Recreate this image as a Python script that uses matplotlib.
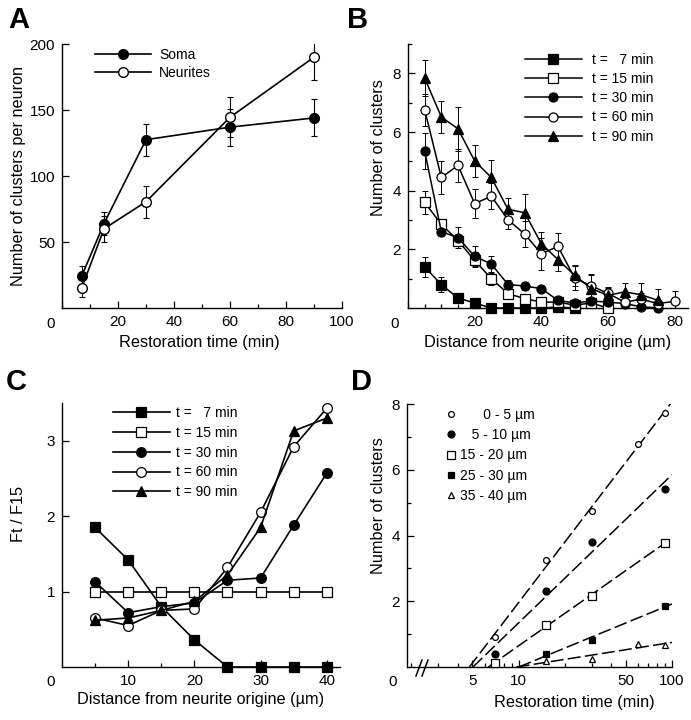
import numpy as np
import matplotlib
matplotlib.use("Agg")
import matplotlib.pyplot as plt
from matplotlib.lines import Line2D
from matplotlib.ticker import MultipleLocator, FixedLocator, NullFormatter

plt.rcParams["font.family"] = ["Liberation Sans", "DejaVu Sans"]
plt.rcParams["font.size"] = 11
plt.rcParams["axes.linewidth"] = 1.0

W, H = 691, 720
LABEL_SIZE = 11.7
nan = np.nan

# --- panel A: clusters per neuron vs restoration time
a_time = [7, 15, 30, 60, 90]
a_soma = [24, 64, 127.5, 137, 144]
a_soma_err = [8, 9, 12, 14, 14]
a_neurites = [15, 60, 80.5, 144.5, 190]
a_neurites_err = [7, 10, 12, 15, 17]

# --- panel B: clusters vs distance from neurite origin
b_dist = [5, 10, 15, 20, 25, 30, 35, 40, 45, 50, 55, 60, 65, 70, 75, 80]
b_t7 = [1.4, 0.8, 0.34, 0.17, 0.0, 0.0, 0.0, 0.0, 0.03, 0.0, nan, nan, nan, nan, nan, nan]
b_t7_err = [0.35, 0.27, 0.1, 0.05, 0, 0, 0, 0, 0.25, 0, nan, nan, nan, nan, nan, nan]
b_t15 = [3.6, 2.85, 2.3, 1.62, 1.0, 0.49, 0.32, 0.2, 0.2, 0.1, 0.17, 0.0, nan, nan, nan, nan]
b_t15_err = [0.4, 0.1, 0.2, 0.2, 0.2, 0.15, 0.1, 0.08, 0.1, 0.05, 0.1, 0.05, nan, nan, nan, nan]
b_t30 = [5.35, 2.6, 2.4, 1.76, 1.5, 0.8, 0.75, 0.66, 0.26, 0.17, 0.24, 0.2, 0.15, 0.04, 0.0, nan]
b_t30_err = [0.6, 0.15, 0.35, 0.35, 0.28, 0.15, 0.12, 0.1, 0.1, 0.08, 0.1, 0.1, 0.1, 0.05, 0.05, nan]
b_t60 = [6.76, 4.45, 4.86, 3.56, 3.81, 3.01, 2.52, 1.85, 2.1, 1.02, 0.75, 0.5, 0.2, 0.3, 0.15, 0.23]
b_t60_err = [0.55, 0.55, 0.55, 0.5, 0.45, 0.3, 0.45, 0.55, 0.45, 0.4, 0.4, 0.2, 0.15, 0.2, 0.1, 0.35]
b_t90 = [7.84, 6.51, 6.11, 5.01, 4.45, 3.36, 3.25, 2.19, 1.65, 1.11, 0.66, 0.43, 0.55, 0.45, 0.26, nan]
b_t90_err = [0.62, 0.55, 0.75, 0.55, 0.6, 0.4, 0.65, 0.4, 0.4, 0.35, 0.45, 0.25, 0.3, 0.4, 0.4, nan]
t_labels = ["t =   7 min", "t = 15 min", "t = 30 min", "t = 60 min", "t = 90 min"]

# --- panel C: Ft / F15 ratio vs distance
c_dist = [5, 10, 15, 20, 25, 30, 35, 40]
c_t7 = [1.85, 1.42, 0.8, 0.36, 0.0, 0.0, 0.0, 0.0]
c_t15 = [1.0, 1.0, 1.0, 1.0, 1.0, 1.0, 1.0, 1.0]
c_t30 = [1.13, 0.72, 0.8, 0.85, 1.15, 1.18, 1.88, 2.57]
c_t60 = [0.65, 0.55, 0.75, 0.77, 1.32, 2.05, 2.92, 3.43]
c_t90 = [0.62, 0.65, 0.75, 0.87, 1.22, 1.85, 3.13, 3.3]

# --- panel D: clusters vs log restoration time, per distance bin
d_time = [7, 15, 30, 60, 90]
d_0_5 = [0.91, 3.25, 4.75, 6.78, 7.74]
d_5_10 = [0.4, 2.3, 3.8, nan, 5.42]
d_15_20 = [0.12, 1.28, 2.16, nan, 3.78]
d_25_30 = [nan, 0.4, 0.81, nan, 1.87]
d_35_40 = [nan, 0.18, 0.25, 0.71, 0.66]
d_labels = ["      0 - 5 µm", "   5 - 10 µm", "15 - 20 µm", "25 - 30 µm", "35 - 40 µm"]

# marker styles shared by the five time series (filled / open)
t_styles = [("s", "k"), ("s", "white"), ("o", "k"), ("o", "white"), ("^", "k")]


def rect(left, top, right, bottom):
    """Axes rectangle from pixel edges."""
    return [left / W, 1 - bottom / H, (right - left) / W, (bottom - top) / H]


def style_axes(ax):
    for side in ["top", "right"]:
        ax.spines[side].set_visible(False)
    ax.tick_params(which="both", direction="in", labelsize=11, width=0.9)
    ax.tick_params(which="major", length=5, pad=5)
    ax.tick_params(which="minor", length=3)


def fig_text(x, y, s, **kw):
    fig.text(x / W, 1 - y / H, s, **kw)


def legend(ax, x, y, **kw):
    opts = dict(loc="upper left", bbox_to_anchor=(x / W, 1 - y / H),
                bbox_transform=fig.transFigure, frameon=False, fontsize=10,
                borderpad=0, borderaxespad=0)
    opts.update(kw)
    ax.legend(**opts)


fig = plt.figure(figsize=(W / 100, H / 100), dpi=100)

# ---------------- A
ax = fig.add_axes(rect(62, 44, 342, 308))
style_axes(ax)
for y, err, fc, lab in [(a_soma, a_soma_err, "k", "Soma"),
                        (a_neurites, a_neurites_err, "white", "Neurites")]:
    ax.errorbar(a_time, y, yerr=err, fmt="none", ecolor="k", elinewidth=0.8,
                capsize=2.5, capthick=0.8, zorder=2)
    ax.plot(a_time, y, "-o", color="k", mfc=fc, mec="k", ms=7, mew=1.0,
            lw=1.2, label=lab, clip_on=False, zorder=3)
ax.set_xlim(0, 100)
ax.set_ylim(0, 200)
ax.set_xticks([0, 20, 40, 60, 80, 100], ["", "20", "40", "60", "80", "100"])
ax.xaxis.set_minor_locator(MultipleLocator(10))
ax.set_yticks([50, 100, 150, 200])
ax.set_xlabel("Restoration time (min)", fontsize=LABEL_SIZE)
ax.xaxis.set_label_coords(0.49, -0.102)
ax.set_ylabel("Number of clusters per neuron", fontsize=LABEL_SIZE)
ax.yaxis.set_label_coords(-0.128, 0.5)
legend(ax, 95, 48, handlelength=4, handletextpad=0.6, labelspacing=0.3)
fig_text(51, 328, "0", ha="center", va="baseline", fontsize=11)
fig_text(19, 28, "A", ha="center", va="baseline", fontsize=21, fontweight="bold")

# ---------------- B
ax = fig.add_axes(rect(408, 44, 688, 308))
style_axes(ax)
b_series = [(b_t7, b_t7_err), (b_t15, b_t15_err), (b_t30, b_t30_err),
            (b_t60, b_t60_err), (b_t90, b_t90_err)]
for (y, err), (m, fc), lab in zip(b_series, t_styles, t_labels):
    ax.errorbar(b_dist, y, yerr=err, fmt="none", ecolor="k", elinewidth=0.7,
                capsize=2.5, capthick=0.7, zorder=2)
    ax.plot(b_dist, y, "-", marker=m, color="k", mfc=fc, mec="k",
            ms=6.5 if m != "^" else 7, mew=0.9, lw=1.1, label=lab,
            clip_on=False, zorder=3)
ax.set_xlim(0, 84)
ax.set_ylim(0, 9)
ax.set_xticks([0, 20, 40, 60, 80], ["", "20", "40", "60", "80"])
ax.xaxis.set_minor_locator(MultipleLocator(5))
ax.set_yticks([2, 4, 6, 8])
ax.yaxis.set_minor_locator(FixedLocator([1, 3, 5, 7, 9]))
ax.set_xlabel("Distance from neurite origine (µm)", fontsize=LABEL_SIZE)
ax.xaxis.set_label_coords(0.5, -0.102)
ax.set_ylabel("Number of clusters", fontsize=LABEL_SIZE)
ax.yaxis.set_label_coords(-0.080, 0.606)
legend(ax, 525, 53, handlelength=4.1, handletextpad=0.7, labelspacing=0.37)
fig_text(395, 328, "0", ha="center", va="baseline", fontsize=11)
fig_text(358, 28, "B", ha="center", va="baseline", fontsize=21, fontweight="bold")

# ---------------- C
ax = fig.add_axes(rect(62, 403, 340, 667))
style_axes(ax)
for y, (m, fc), lab in zip([c_t7, c_t15, c_t30, c_t60, c_t90], t_styles, t_labels):
    ax.plot(c_dist, y, "-", marker=m, color="k", mfc=fc, mec="k",
            ms=7 if m != "^" else 7.5, mew=0.9, lw=1.2, label=lab,
            clip_on=False, zorder=3)
ax.set_xlim(0, 42)
ax.set_ylim(0, 3.5)
ax.set_xticks([10, 20, 30, 40])
ax.xaxis.set_minor_locator(FixedLocator([5, 15, 25, 35]))
ax.set_yticks([1, 2, 3])
ax.set_xlabel("Distance from neurite origine (µm)", fontsize=LABEL_SIZE)
ax.xaxis.set_label_coords(0.5, -0.095)
ax.set_ylabel("Ft / F15", fontsize=LABEL_SIZE)
ax.yaxis.set_label_coords(-0.128, 0.58)
legend(ax, 113, 406, handlelength=4.1, handletextpad=0.4, labelspacing=0.42)
fig_text(51, 686, "0", ha="center", va="baseline", fontsize=11)
fig_text(16, 390, "C", ha="center", va="baseline", fontsize=21, fontweight="bold")

# ---------------- D
ax = fig.add_axes(rect(407, 404, 672, 667))
style_axes(ax)
ax.set_xscale("log")
d_series = [d_0_5, d_5_10, d_15_20, d_25_30, d_35_40]
d_styles = [("o", "white", 4.2), ("o", "k", 5), ("s", "white", 5.5),
            ("s", "k", 5), ("^", "white", 4.5)]
for y, (m, fc, ms), lab in zip(d_series, d_styles, d_labels):
    t = np.array(d_time, dtype=float)
    y = np.array(y, dtype=float)
    ok = ~np.isnan(y)
    # least-squares line of clusters against log10(time), drawn from y = 0
    slope, icpt = np.polyfit(np.log10(t[ok]), y[ok], 1)
    xs = np.array([10 ** (-icpt / slope), 100])
    ax.plot(xs, slope * np.log10(xs) + icpt, color="k", lw=1.1,
            dashes=(8.5, 2.8), zorder=2)
    ax.plot(t, y, linestyle="none", marker=m, mfc=fc, mec="k", ms=ms,
            mew=0.9, label=lab, clip_on=False, zorder=3)
ax.set_xlim(1.87, 100)
ax.set_ylim(0, 8)
ax.xaxis.set_major_locator(FixedLocator([5, 10, 50, 100]))
ax.set_xticklabels(["5", "10", "50", "100"])
ax.xaxis.set_minor_locator(FixedLocator([2, 3, 4, 6, 7, 8, 9, 20, 30, 40, 60, 70, 80, 90]))
ax.xaxis.set_minor_formatter(NullFormatter())
ax.set_yticks([2, 4, 6, 8])
ax.yaxis.set_minor_locator(FixedLocator([1, 3, 5, 7]))
ax.set_xlabel("Restoration time (min)", fontsize=LABEL_SIZE)
ax.xaxis.set_label_coords(0.63, -0.106)
ax.set_ylabel("Number of clusters", fontsize=LABEL_SIZE)
ax.yaxis.set_label_coords(-0.081, 0.612)
legend(ax, 445, 408, handlelength=0.8, handletextpad=0.3, labelspacing=0.45)
fig_text(393, 686, "0", ha="center", va="baseline", fontsize=11)
fig_text(362, 390, "D", ha="center", va="baseline", fontsize=21, fontweight="bold")
# axis break marks
for dx in (0, 6):
    fig.add_artist(Line2D([(416 + dx) / W, (422 + dx) / W],
                          [1 - 676 / H, 1 - 660 / H],
                          transform=fig.transFigure, color="k", lw=1.1))

fig.savefig("out.png", dpi=100)
